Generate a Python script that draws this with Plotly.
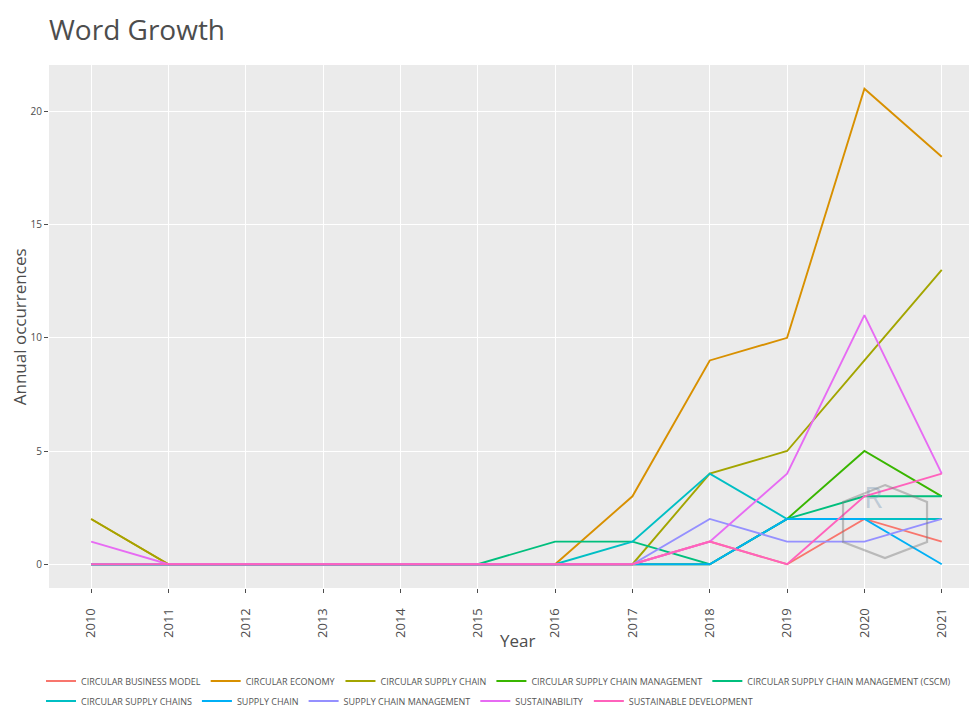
import plotly.graph_objects as go

years = list(range(2010, 2022))

series_names = [
    "CIRCULAR BUSINESS MODEL",
    "CIRCULAR ECONOMY",
    "CIRCULAR SUPPLY CHAIN",
    "CIRCULAR SUPPLY CHAIN MANAGEMENT",
    "CIRCULAR SUPPLY CHAIN MANAGEMENT (CSCM)",
    "CIRCULAR SUPPLY CHAINS",
    "SUPPLY CHAIN",
    "SUPPLY CHAIN MANAGEMENT",
    "SUSTAINABILITY",
    "SUSTAINABLE DEVELOPMENT",
]

circular_business_model = [0, 0, 0, 0, 0, 0, 0, 0, 1, 0, 2, 1]
circular_economy = [2, 0, 0, 0, 0, 0, 0, 3, 9, 10, 21, 18]
circular_supply_chain = [2, 0, 0, 0, 0, 0, 0, 0, 4, 5, 9, 13]
circular_supply_chain_management = [0, 0, 0, 0, 0, 0, 0, 0, 0, 2, 5, 3]
cscm_abbrev = [0, 0, 0, 0, 0, 0, 1, 1, 0, 2, 3, 3]
circular_supply_chains = [0, 0, 0, 0, 0, 0, 0, 1, 4, 2, 2, 2]
supply_chain = [0, 0, 0, 0, 0, 0, 0, 0, 0, 2, 2, 0]
supply_chain_management = [0, 0, 0, 0, 0, 0, 0, 0, 2, 1, 1, 2]
sustainability = [1, 0, 0, 0, 0, 0, 0, 0, 1, 4, 11, 4]
sustainable_development = [0, 0, 0, 0, 0, 0, 0, 0, 1, 0, 3, 4]

series_values = [
    circular_business_model, circular_economy, circular_supply_chain,
    circular_supply_chain_management, cscm_abbrev, circular_supply_chains,
    supply_chain, supply_chain_management, sustainability, sustainable_development,
]

colors = ["#F8766D", "#D89000", "#A3A500", "#39B600", "#00BF7D",
          "#00BFC4", "#00B0F6", "#9590FF", "#E76BF3", "#FF62BC"]

y_ticks = [0, 5, 10, 15, 20]

FONT = "Open Sans, Arial, sans-serif"
GREY = "#4D4D4D"

fig = go.Figure()
for i, (name, vals, col) in enumerate(zip(series_names, series_values, colors)):
    fig.add_trace(go.Scatter(
        x=years, y=vals, mode="lines", name=name,
        line=dict(color=col, width=1.9),
        legend="legend" if i < 5 else "legend2",
    ))

# layout geometry (page has an 8px body margin)
OFF = 8
W, H = 977 - OFF, 713 - OFF
L, R, T, B = 41, 2, 56.5, 125
pw, ph = W - L - R, H - T - B

def px(x_page):
    return (x_page - OFF - L) / pw

def py(y_page):
    return (H - B - (y_page - OFF)) / ph

# faint hexagon watermark (decorative logo)
hexpts = [(885, 485), (927, 502), (927, 542), (885, 558), (843, 542), (843, 502)]
path = "M " + " L ".join(f"{px(a):.4f},{py(b):.4f}" for a, b in hexpts) + " Z"
fig.add_shape(type="path", path=path, xref="paper", yref="paper",
              line=dict(color="rgba(125,125,125,0.45)", width=2.2),
              fillcolor="rgba(0,0,0,0)", layer="above")
fig.add_annotation(x=px(885), y=py(519), xref="paper", yref="paper",
                   text="R", showarrow=False,
                   font=dict(family=FONT, size=30, color="rgba(120,150,180,0.40)"))

# axis titles
fig.add_annotation(x=px(517), y=py(641), xref="paper", yref="paper",
                   text="Year", showarrow=False, xanchor="center", yanchor="middle",
                   font=dict(family=FONT, size=17, color=GREY))
fig.add_annotation(x=px(19), y=py(327), xref="paper", yref="paper",
                   text="Annual occurrences", showarrow=False, textangle=-90,
                   xanchor="center", yanchor="middle",
                   font=dict(family=FONT, size=17, color=GREY))

legend_common = dict(orientation="h", xref="container", yref="container",
                     x=(41 - OFF) / W, xanchor="left", yanchor="middle",
                     font=dict(size=9, color="#555555", family=FONT),
                     traceorder="normal", itemwidth=30, bgcolor="rgba(0,0,0,0)")

fig.update_layout(
    width=W, height=H,
    margin=dict(l=L, r=R, t=T, b=B, autoexpand=False),
    paper_bgcolor="white",
    plot_bgcolor="#EBEBEB",
    font=dict(family=FONT, color=GREY),
    title=dict(text="Word Growth", x=0, xref="paper", xanchor="left",
               y=1 - 22 / H, yref="container", yanchor="middle",
               font=dict(size=28, color=GREY, family=FONT)),
    showlegend=True,
    legend=dict(y=1 - (681 - OFF) / H, **legend_common),
    legend2=dict(y=1 - (701 - OFF) / H, **legend_common),
)

fig.update_xaxes(
    range=[2009.455, 2021.43],
    tickvals=years, ticktext=[str(y) for y in years],
    tickangle=-90, tickfont=dict(size=13, color=GREY),
    ticks="outside", ticklen=4, tickcolor=GREY, tickwidth=1,
    ticklabelstandoff=10,
    showgrid=True, gridcolor="white", gridwidth=1,
    zeroline=False, showline=False, automargin=False,
)
fig.update_yaxes(
    range=[-1.05, 22.05],
    tickvals=y_ticks, ticktext=[str(v) for v in y_ticks],
    tickfont=dict(size=10, color=GREY),
    ticks="outside", ticklen=4, tickcolor=GREY, tickwidth=1,
    showgrid=True, gridcolor="white", gridwidth=1,
    zeroline=False, showline=False, automargin=False,
)

fig.write_html("out.html")
